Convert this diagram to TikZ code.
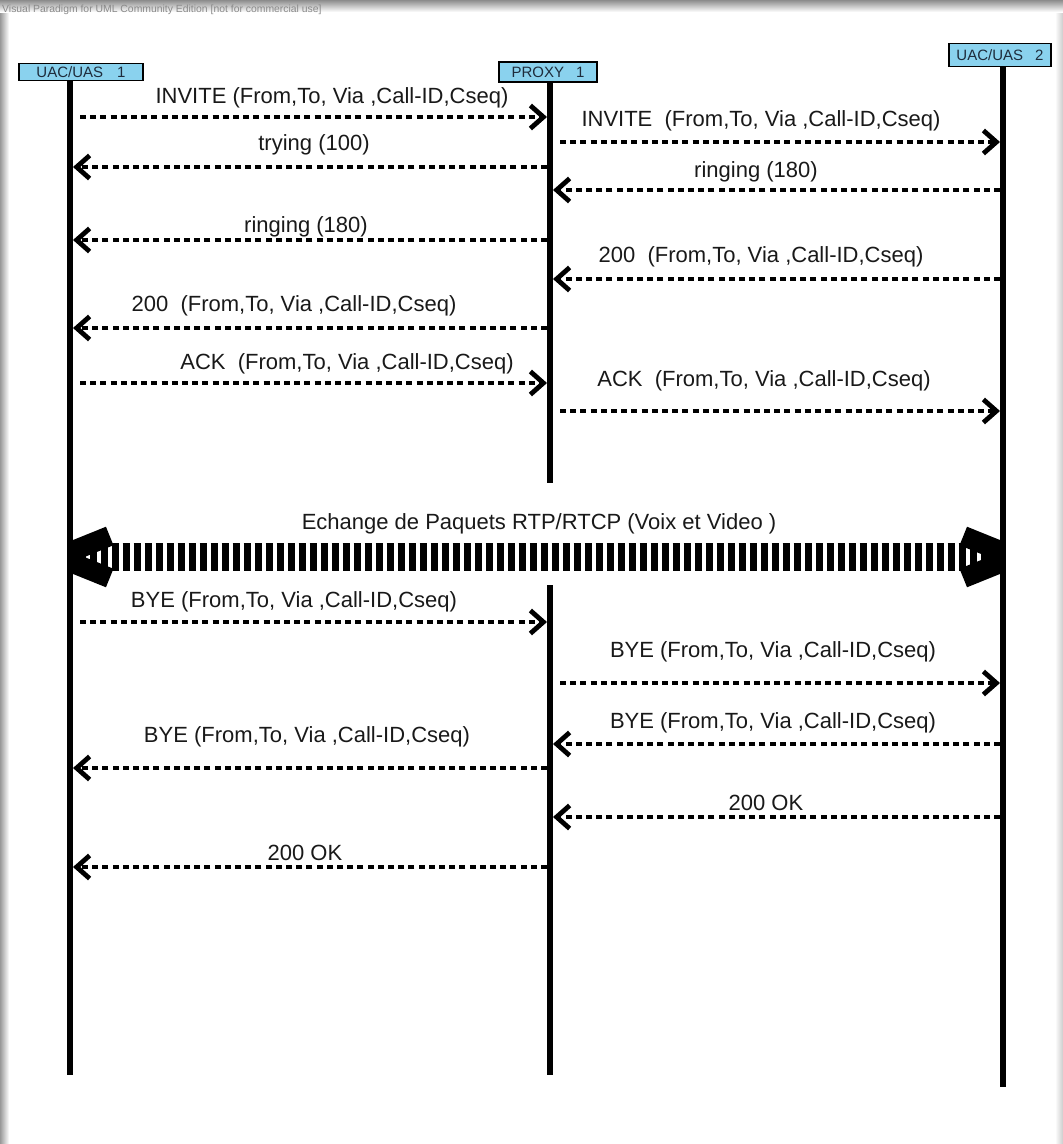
\documentclass[tikz,border=0pt]{standalone}
\usepackage{fontspec}
\setmainfont{Liberation Sans}
\usetikzlibrary{arrows.meta}
\definecolor{boxblue}{HTML}{8AD2EE}
\definecolor{boxtext}{HTML}{1E2C3C}
\definecolor{hdrgray}{HTML}{8A8A8A}
\begin{document}
\begin{tikzpicture}[x=1pt,y=-1pt,
  actor/.style={draw=black, line width=1.6pt, fill=boxblue, text=boxtext, inner sep=0pt,
    font=\fontsize{15}{17}\selectfont},
  life/.style={line width=6pt, black},
  msg/.style={line width=4.6pt, dash pattern=on 6pt off 4.2pt,
    -{Straight Barb[length=13pt,width=23pt,line width=4.8pt]}},
  bigmsg/.style={line width=28pt, dash pattern=on 7pt off 4pt,
    {Straight Barb[length=52pt,width=42pt,line width=20pt]}-{Straight Barb[length=52pt,width=42pt,line width=20pt]}},
  lbl/.style={inner sep=0pt, font=\fontsize{22}{26}\selectfont, text=black!90},
  hdr/.style={inner sep=0pt, anchor=west, font=\fontsize{10.4}{12}\selectfont, text=hdrgray}]
\useasboundingbox (0,0) rectangle (1063,1144);
\fill[white] (0,0) rectangle (1063,1144);
% page shadow
\shade[left color=black!40, right color=white] (0,0) rectangle (9,1144);
\shade[left color=white, right color=black!20] (1055,0) rectangle (1063,1144);
\shade[top color=black!45, bottom color=white] (0,0) rectangle (1063,12);

\node[hdr] (hdr) at (2,10) {Visual Paradigm for UML Community Edition [not for commercial use]};

% actors
\node[actor, minimum width=124pt, minimum height=17pt] (a1) at (81,72) {UAC/UAS\hspace{14pt}1};
\node[actor, minimum width=98pt, minimum height=20pt] (px) at (548,72) {PROXY\hspace{12pt}1};
\node[actor, minimum width=102pt, minimum height=23pt] (a2) at (1000,55) {UAC/UAS\hspace{12pt}2};

% lifelines
\coordinate (l1t) at (70,81);   \coordinate (l1b) at (70,1075);
\coordinate (pxt) at (550,82);  \coordinate (pxm1) at (550,483);
\coordinate (pxm2) at (550,585); \coordinate (pxb) at (550,1075);
\coordinate (l2t) at (1003,67); \coordinate (l2b) at (1003,1087);
\draw[life] (l1t) -- (l1b);
\draw[life] (pxt) -- (pxm1);
\draw[life] (pxm2) -- (pxb);
\draw[life] (l2t) -- (l2b);

% message endpoints
\coordinate (m1s) at (80,117);   \coordinate (m1e) at (547,117);
\coordinate (m2s) at (560,142);  \coordinate (m2e) at (1000,142);
\coordinate (m3s) at (547,167);  \coordinate (m3e) at (73,167);
\coordinate (m4s) at (1000,190); \coordinate (m4e) at (553,190);
\coordinate (m5s) at (547,240);  \coordinate (m5e) at (73,240);
\coordinate (m6s) at (1000,279); \coordinate (m6e) at (553,279);
\coordinate (m7s) at (547,328);  \coordinate (m7e) at (73,328);
\coordinate (m8s) at (80,383);   \coordinate (m8e) at (547,383);
\coordinate (m9s) at (560,411);  \coordinate (m9e) at (1000,411);
\coordinate (bgs) at (31,557);   \coordinate (bge) at (1042,557);
\coordinate (m11s) at (80,622);  \coordinate (m11e) at (547,622);
\coordinate (m12s) at (560,683); \coordinate (m12e) at (1000,683);
\coordinate (m13s) at (1000,744);\coordinate (m13e) at (553,744);
\coordinate (m14s) at (547,768); \coordinate (m14e) at (73,768);
\coordinate (m15s) at (1000,817);\coordinate (m15e) at (553,817);
\coordinate (m16s) at (547,867); \coordinate (m16e) at (73,867);

\draw[msg] (m1s) -- (m1e);
\draw[msg] (m2s) -- (m2e);
\draw[msg] (m3s) -- (m3e);
\draw[msg] (m4s) -- (m4e);
\draw[msg] (m5s) -- (m5e);
\draw[msg] (m6s) -- (m6e);
\draw[msg] (m7s) -- (m7e);
\draw[msg] (m8s) -- (m8e);
\draw[msg] (m9s) -- (m9e);
\begin{scope}
  \clip (73,500) rectangle (1000,620);
  \draw[bigmsg] (bgs) -- (bge);
\end{scope}
\draw[msg] (m11s) -- (m11e);
\draw[msg] (m12s) -- (m12e);
\draw[msg] (m13s) -- (m13e);
\draw[msg] (m14s) -- (m14e);
\draw[msg] (m15s) -- (m15e);
\draw[msg] (m16s) -- (m16e);

% labels
\node[lbl] (t1) at (332,98) {INVITE (From,To, Via ,Call-ID,Cseq)};
\node[lbl] (t2) at (761,121) {INVITE\ \ (From,To, Via ,Call-ID,Cseq)};
\node[lbl] (t3) at (314,145) {trying (100)};
\node[lbl] (t4) at (756,172) {ringing (180)};
\node[lbl] (t5) at (306,227) {ringing (180)};
\node[lbl] (t6) at (761,257) {200\ \ (From,To, Via ,Call-ID,Cseq)};
\node[lbl] (t7) at (294,306) {200\ \ (From,To, Via ,Call-ID,Cseq)};
\node[lbl] (t8) at (347,364) {ACK\ \ (From,To, Via ,Call-ID,Cseq)};
\node[lbl] (t9) at (764,381) {ACK\ \ (From,To, Via ,Call-ID,Cseq)};
\node[lbl] (t10) at (539,524) {Echange de Paquets RTP/RTCP (Voix et Video )};
\node[lbl] (t11) at (294,602) {BYE (From,To, Via ,Call-ID,Cseq)};
\node[lbl] (t12) at (773,652) {BYE (From,To, Via ,Call-ID,Cseq)};
\node[lbl] (t13) at (773,723) {BYE (From,To, Via ,Call-ID,Cseq)};
\node[lbl] (t14) at (307,737) {BYE (From,To, Via ,Call-ID,Cseq)};
\node[lbl] (t15) at (766,803) {200 OK};
\node[lbl] (t16) at (305,853) {200 OK};
\end{tikzpicture}
\end{document}
